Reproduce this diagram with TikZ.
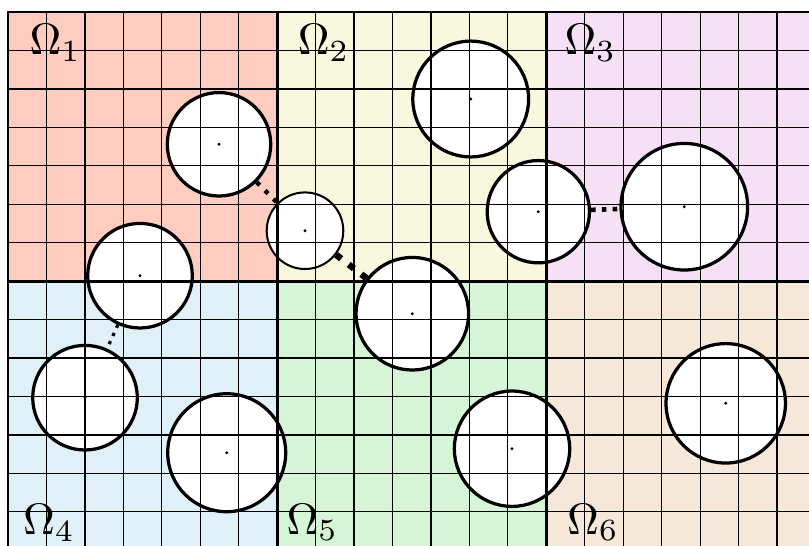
\documentclass[tikz,border=0pt]{standalone}
\definecolor{omA}{RGB}{255,204,192}
\definecolor{omB}{RGB}{248,248,222}
\definecolor{omC}{RGB}{245,224,245}
\definecolor{omD}{RGB}{224,240,248}
\definecolor{omE}{RGB}{214,245,214}
\definecolor{omF}{RGB}{245,232,216}
\newcommand{\omlabel}[1]{\scalebox{1.63}{$\Omega_{#1}$}}
\tikzset{
  gridline/.style={line width=0.45pt, black},
  border/.style={line width=1.1pt, black},
  ring/.style={circle, draw=black, inner sep=0pt},
  lbl/.style={font=\normalsize, inner sep=0pt, anchor=base west},
  dots/.style 2 args={line width=#1, dash pattern=on #1 off #2},
}
\def\circlist{c1/5.488/-3.441/1.345/1.2pt,c2/7.724/-5.688/0.996/0.75pt,c3/12.034/-2.263/1.506/1.2pt,c4/13.792/-5.194/1.33/1.2pt,c5/17.589/-5.064/1.646/1.2pt,c6/3.433/-6.858/1.36/1.2pt,c7/2.003/-10.031/1.36/1.2pt,c8/5.688/-11.462/1.534/1.2pt,c9/10.515/-7.847/1.464/1.2pt,c10/13.108/-11.358/1.5/1.2pt,c11/18.666/-10.177/1.553/1.2pt}
\begin{document}
\begin{tikzpicture}[x=0.5cm,y=0.5cm]
\useasboundingbox (-0.208,0.312) rectangle (20.832,-13.862);
\clip (-0.208,0.312) rectangle (20.832,-13.862);
% region fills
\fill[omA] (0,0) rectangle (7,-7);
\fill[omB] (7,0) rectangle (14,-7);
\fill[omC] (14,0) rectangle (21,-7);
\fill[omD] (0,-7) rectangle (7,-14);
\fill[omE] (7,-7) rectangle (14,-14);
\fill[omF] (14,-7) rectangle (21,-14);
% white discs
\foreach \n/\x/\y/\r/\w in \circlist {
  \fill[white] (\x,\y) circle[radius=\r*0.5cm];
}
% grid and borders
\draw[gridline, step=0.5cm] (0,0) grid (21,-14);
\draw[border] (0,0) rectangle (21,-14);
\draw[border] (7,0) -- (7,-14);
\draw[border] (14,0) -- (14,-14);
\draw[border] (0,-7) -- (21,-7);
% circle outlines and centres
\foreach \n/\x/\y/\r/\w in \circlist {
  \node[ring, line width=\w, minimum size=\r cm] (\n) at (\x,\y) {};
  \fill (\n.center) circle[radius=0.6pt];
}
% labels
\node[lbl] (L1) at (0.546,-1.118) {\omlabel{1}};
\node[lbl] (L2) at (7.524,-1.118) {\omlabel{2}};
\node[lbl] (L3) at (14.46,-1.118) {\omlabel{3}};
\node[lbl] (L4) at (0.382,-13.60) {\omlabel{4}};
\node[lbl] (L5) at (7.23,-13.58) {\omlabel{5}};
\node[lbl] (L6) at (14.53,-13.58) {\omlabel{6}};
% links
\draw[dots={1.6pt}{2.8pt}] (c1) -- (c2);
\draw[dots={2.4pt}{3.5pt}] (c2) -- (c9);
\draw[dots={1.7pt}{2.3pt}] (c4) -- (c5);
\draw[dots={1.2pt}{2.1pt}] (c6) -- (c7);
\end{tikzpicture}
\end{document}
